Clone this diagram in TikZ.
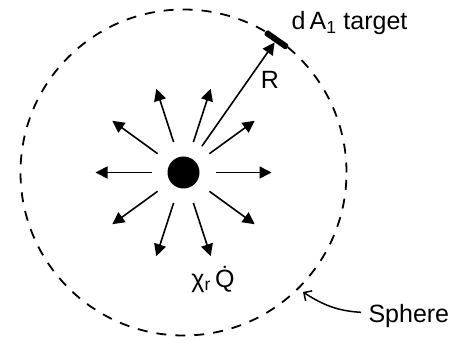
\documentclass[tikz,border=0pt]{standalone}
\usepackage{fontspec}
\setmainfont{Liberation Sans}
\usetikzlibrary{arrows.meta, positioning, calc}

\begin{document}
\begin{tikzpicture}[
        x=1pt, y=1pt,
        font=\fontsize{25}{30}\selectfont,
        ray/.style={-{Triangle[length=12pt, width=12pt]}, line width=1.6pt},
        spherebound/.style={dash pattern=on 10pt off 9pt, line width=1.8pt},
        pointer/.style={-{Straight Barb[length=6pt, width=12pt]}, line width=1.5pt}
    ]
        \useasboundingbox (0,0) rectangle (455,343);
        \node[circle, fill=black, inner sep=0pt, minimum size=32pt] (src) at (183.5,170.5) {};
        \draw[spherebound] (src.center) circle[radius=163pt];

        \foreach \a in {0,36,...,324}
            \draw[ray] (src.center) ++(\a:32pt) -- ++(\a:56pt);

        \node[fill=black, rounded corners=1.5pt, inner sep=0pt, minimum width=27pt, minimum height=6pt, rotate=-35] (tgt) at ($(src.center)+(55:162pt)$) {};
        \draw[ray, shorten <=16pt] (src) -- (tgt);
        \node at (270,263) {R};
        \node[anchor=base west] (tgtlabel) at (288,313) {d\,A\textsubscript{1} target};

        \node[anchor=base] (flux) at (213,56) {χ\textsubscript{r}\,\.{Q}};

        \node[anchor=base west] (sphere) at (365,21) {Sphere};
        \coordinate (hit) at ($(src.center)+(-45:169pt)$);
        \draw[pointer, shorten <=4pt] ([yshift=3pt]sphere.west) to[bend left=15] (hit);
    \end{tikzpicture}
\end{document}
